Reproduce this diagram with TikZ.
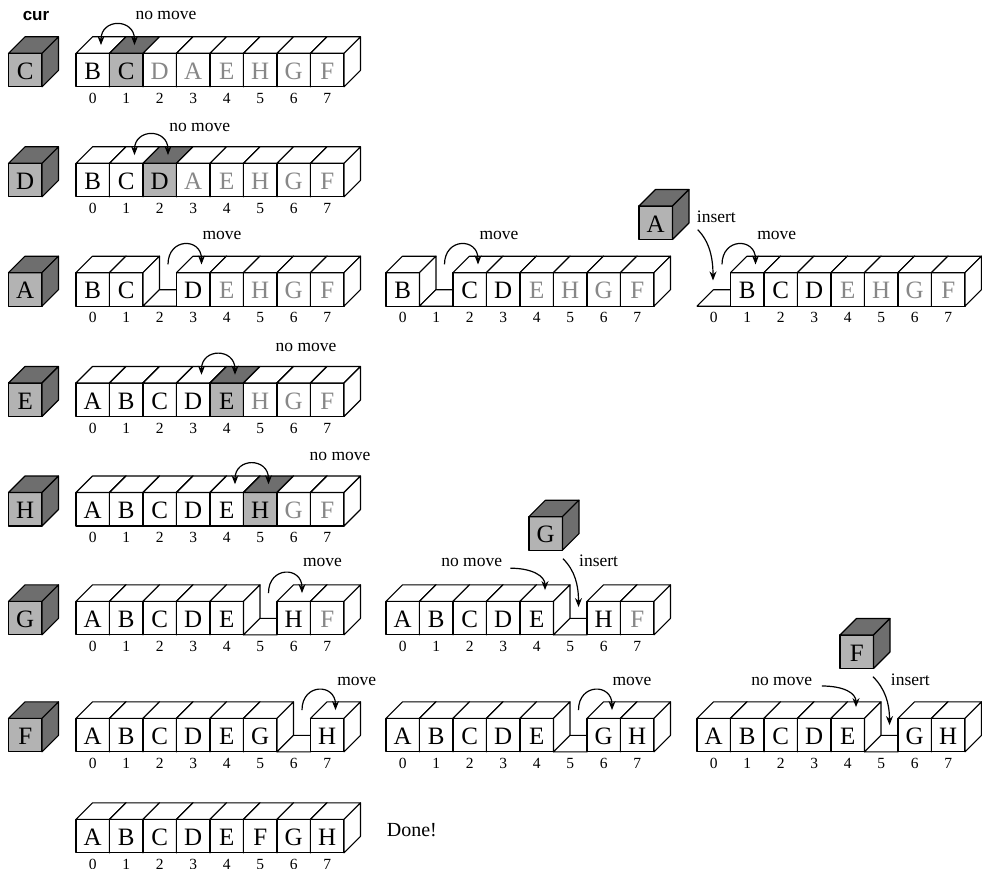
\documentclass[tikz,border=0pt]{standalone}
\usepackage{fontspec}
\setmainfont{Liberation Serif}
\newfontfamily\labsans{Liberation Sans}
\usetikzlibrary{arrows.meta,calc}
\definecolor{facelight}{RGB}{179,179,179}
\definecolor{facedark}{RGB}{110,110,110}
\definecolor{textgray}{RGB}{135,135,135}

\def\cw{33.5}
\def\dd{16.5}

\tikzset{
  edge/.style={draw=black, line width=1.1pt, line join=round},
  letter/.style={font=\fontsize{25}{25}\selectfont, inner sep=0pt, anchor=base},
  idx/.style={font=\fontsize{15.5}{16}\selectfont, inner sep=0pt, anchor=base},
  lbl/.style={font=\fontsize{17.5}{18}\selectfont, inner sep=0pt, anchor=base},
  arr/.style={line width=1.2pt, -{Stealth[length=9pt,width=7pt]}},
  darr/.style={line width=1.2pt, {Stealth[length=9pt,width=7pt]}-{Stealth[length=9pt,width=7pt]}},
}

% cube: name, x, y (top of front face), front fill, top fill, letter
\newcommand{\drawcube}[6]{%
  \begin{scope}[shift={(#2,#3)}]
    \path[edge, fill=#4] (0,0) rectangle (\cw,\cw);
    \path[edge, fill=#5] (0,0) -- (\dd,-\dd) -- (\cw+\dd,-\dd) -- (\cw,0) -- cycle;
    \path[edge, fill=#5] (\cw,0) -- (\cw+\dd,-\dd) -- (\cw+\dd,\cw-\dd) -- (\cw,\cw) -- cycle;
    \node[letter] (#1) at (\cw/2,\cw-7.3) {#6};
    \coordinate (#1-t) at (\cw/2+\dd/2,-\dd/2);
  \end{scope}}

% empty slot: name, x, y
\newcommand{\drawgap}[3]{%
  \begin{scope}[shift={(#2,#3)}]
    \path[edge, fill=white] (0,\cw) -- (\dd,\cw-\dd) -- (\cw+\dd,\cw-\dd) -- (\cw,\cw) -- cycle;
    \coordinate (#1-t) at (\cw/2+\dd/2,-\dd/2);
  \end{scope}}

% row: name, x0, y, list of type/letter (k black, g gray, h highlighted, e empty)
\newcommand{\arrayrow}[4]{%
  \foreach \cty/\clet [count=\n from 0] in {#4} {
    \pgfmathsetmacro\xx{#2+\n*\cw}
    \if e\cty \drawgap{#1-\n}{\xx}{#3}%
    \else\if h\cty \drawcube{#1-\n}{\xx}{#3}{facelight}{facedark}{\clet}%
    \else\if g\cty \drawcube{#1-\n}{\xx}{#3}{white}{white}{\textcolor{textgray}{\clet}}%
    \else \drawcube{#1-\n}{\xx}{#3}{white}{white}{\clet}%
    \fi\fi\fi
    \node[idx] (#1-i\n) at (\xx+\cw/2,#3+50) {\n};
  }}

\begin{document}
\begin{tikzpicture}[x=1pt,y=-1pt]
\useasboundingbox (0,0) rectangle (982,869);
\clip (0,0) rectangle (982,869);

\node[font=\labsans\bfseries\fontsize{17}{17}\selectfont, inner sep=0pt, anchor=base] (curlbl) at (36,20.7) {cur};

% ---- row 1
\drawcube{cur1}{8.5}{53.3}{facelight}{facedark}{C}
\arrayrow{r1}{76}{53.3}{k/B,h/C,g/D,g/A,g/E,g/H,g/G,g/F}
\draw[darr] (r1-0-t) .. controls +(0,-27) and +(0,-27) .. (r1-1-t);
\node[lbl] (nm1) at (166,20) {no move};

% ---- row 2
\drawcube{cur2}{8.5}{163.3}{facelight}{facedark}{D}
\arrayrow{r2}{76}{163.3}{k/B,k/C,h/D,g/A,g/E,g/H,g/G,g/F}
\draw[darr] (r2-1-t) .. controls +(0,-27) and +(0,-27) .. (r2-2-t);
\node[lbl] (nm2) at (199.7,131.7) {no move};

% ---- row 3
\drawcube{cur3}{8.5}{272.7}{facelight}{facedark}{A}
\arrayrow{r3a}{76}{272.7}{k/B,k/C,e/x,k/D,g/E,g/H,g/G,g/F}
\draw[arr] (r3a-2-t) .. controls +(0,-27) and +(0,-27) .. (r3a-3-t);
\node[lbl] (mv3a) at (222,240) {move};

\arrayrow{r3b}{386}{272.7}{k/B,e/x,k/C,k/D,g/E,g/H,g/G,g/F}
\draw[arr] (r3b-1-t) .. controls +(0,-27) and +(0,-27) .. (r3b-2-t);
\node[lbl] (mv3b) at (499,239.3) {move};

\drawcube{insA}{639}{206}{facelight}{facedark}{A}
\arrayrow{r3c}{697}{272.7}{e/x,k/B,k/C,k/D,g/E,g/H,g/G,g/F}
\draw[arr] (r3c-0-t) .. controls +(0,-27) and +(0,-27) .. (r3c-1-t);
\node[lbl] (mv3c) at (776.7,240) {move};
\node[lbl, anchor=base west] (in3c) at (696.7,222.7) {insert};
\draw[arr] ($(in3c.base west)+(1,7)$) .. controls +(12,12) and +(0,-22) .. ($(r3c-0-t)+(-9,16)$);

% ---- row 4
\drawcube{cur4}{8.5}{383}{facelight}{facedark}{E}
\arrayrow{r4}{76}{383}{k/A,k/B,k/C,k/D,h/E,g/H,g/G,g/F}
\draw[darr] (r4-3-t) .. controls +(0,-27) and +(0,-27) .. (r4-4-t);
\node[lbl] (nm4) at (306,351) {no move};

% ---- row 5
\drawcube{cur5}{8.5}{492.5}{facelight}{facedark}{H}
\arrayrow{r5}{76}{492.5}{k/A,k/B,k/C,k/D,k/E,h/H,g/G,g/F}
\draw[darr] (r5-4-t) .. controls +(0,-27) and +(0,-27) .. (r5-5-t);
\node[lbl] (nm5) at (340,460.5) {no move};

% ---- row 6
\drawcube{cur6}{8.5}{601.3}{facelight}{facedark}{G}
\arrayrow{r6a}{76}{601.3}{k/A,k/B,k/C,k/D,k/E,e/x,k/H,g/F}
\draw[arr] (r6a-5-t) .. controls +(0,-27) and +(0,-27) .. (r6a-6-t);
\node[lbl] (mv6a) at (322.5,566.7) {move};

\drawcube{insG}{529}{516.7}{facelight}{facedark}{G}
\arrayrow{r6b}{386}{601.3}{k/A,k/B,k/C,k/D,k/E,e/x,k/H,g/F}
\node[lbl] (nm6b) at (471.7,566.7) {no move};
\node[lbl, anchor=base west] (in6b) at (579,566.7) {insert};
\draw[arr] ($(nm6b.base east)+(8,1.5)$) .. controls +(22,0) and +(0,-14) .. ($(r6b-4-t)+(0,-3)$);
\draw[arr] ($(in6b.base west)+(-16,-8)$) .. controls +(12,12) and +(0,-22) .. ($(r6b-5-t)+(0,14)$);

% ---- row 7
\drawcube{cur7}{8.5}{718.3}{facelight}{facedark}{F}
\arrayrow{r7a}{76}{718.3}{k/A,k/B,k/C,k/D,k/E,k/G,e/x,k/H}
\draw[arr] (r7a-6-t) .. controls +(0,-27) and +(0,-27) .. (r7a-7-t);
\node[lbl] (mv7a) at (356.7,685) {move};

\arrayrow{r7b}{386}{718.3}{k/A,k/B,k/C,k/D,k/E,e/x,k/G,k/H}
\draw[arr] (r7b-5-t) .. controls +(0,-27) and +(0,-27) .. (r7b-6-t);
\node[lbl] (mv7b) at (632,685) {move};

\drawcube{insF}{840}{635}{facelight}{facedark}{F}
\arrayrow{r7c}{697}{718.3}{k/A,k/B,k/C,k/D,k/E,e/x,k/G,k/H}
\node[lbl] (nm7c) at (781.7,685) {no move};
\node[lbl, anchor=base west] (in7c) at (890.7,685) {insert};
\draw[arr] ($(nm7c.base east)+(9.5,1)$) .. controls +(22,0) and +(0,-14) .. ($(r7c-4-t)+(0,-3)$);
\draw[arr] ($(in7c.base west)+(-17.7,-8.3)$) .. controls +(12,12) and +(0,-22) .. ($(r7c-5-t)+(0,15)$);

% ---- row 8
\arrayrow{r8}{76}{819.3}{k/A,k/B,k/C,k/D,k/E,k/F,k/G,k/H}
\node[font=\fontsize{20}{20}\selectfont, inner sep=0pt, anchor=base west] (done) at (386.7,836) {Done!};
\end{tikzpicture}
\end{document}
